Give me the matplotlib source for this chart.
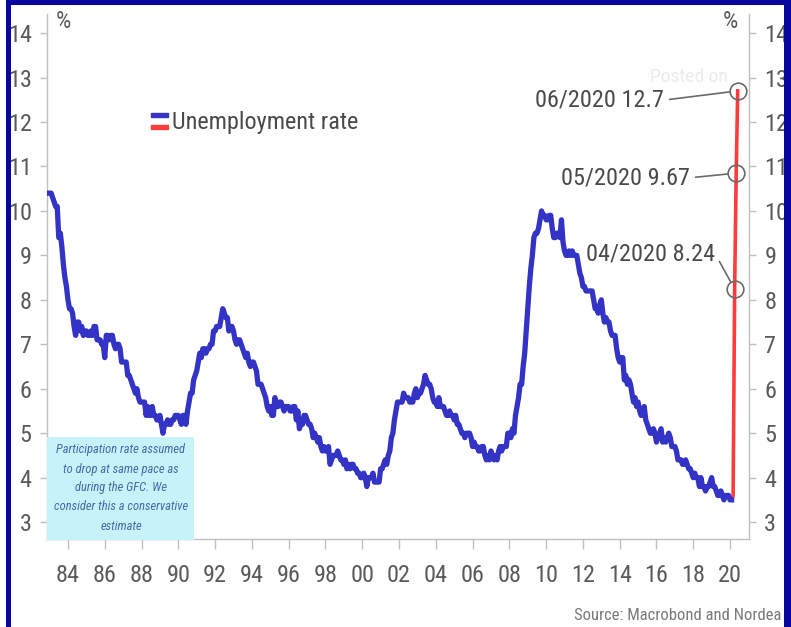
import numpy as np
import matplotlib
matplotlib.use("Agg")
import matplotlib.pyplot as plt
from matplotlib.patches import Rectangle

plt.rcParams['font.family'] = ['Roboto Condensed', 'DejaVu Sans']
plt.rcParams['font.weight'] = 'normal'

# US unemployment rate, monthly, Jan 1983 - Feb 2020 (%)
start_year = 1983
unemployment = [
    10.4, 10.4, 10.3, 10.2, 10.1, 10.1, 9.4, 9.5, 9.2, 8.8, 8.5, 8.3,   # 1983
    8.0, 7.8, 7.8, 7.7, 7.4, 7.2, 7.5, 7.5, 7.3, 7.4, 7.2, 7.3,         # 1984
    7.3, 7.2, 7.2, 7.3, 7.2, 7.4, 7.4, 7.1, 7.1, 7.1, 7.0, 7.0,         # 1985
    6.7, 7.2, 7.2, 7.1, 7.2, 7.2, 7.0, 6.9, 7.0, 7.0, 6.9, 6.6,         # 1986
    6.6, 6.6, 6.6, 6.3, 6.3, 6.2, 6.1, 6.0, 5.9, 6.0, 5.8, 5.7,         # 1987
    5.7, 5.7, 5.7, 5.4, 5.6, 5.4, 5.4, 5.6, 5.4, 5.4, 5.3, 5.3,         # 1988
    5.4, 5.2, 5.0, 5.2, 5.2, 5.3, 5.2, 5.2, 5.3, 5.3, 5.4, 5.4,         # 1989
    5.4, 5.3, 5.2, 5.4, 5.4, 5.2, 5.5, 5.7, 5.9, 5.9, 6.2, 6.3,         # 1990
    6.4, 6.6, 6.8, 6.7, 6.9, 6.9, 6.8, 6.9, 6.9, 7.0, 7.0, 7.3,         # 1991
    7.3, 7.4, 7.4, 7.4, 7.6, 7.8, 7.7, 7.6, 7.6, 7.3, 7.4, 7.4,         # 1992
    7.3, 7.1, 7.0, 7.1, 7.1, 7.0, 6.9, 6.8, 6.7, 6.8, 6.6, 6.5,         # 1993
    6.6, 6.6, 6.5, 6.4, 6.1, 6.1, 6.1, 6.0, 5.9, 5.8, 5.6, 5.5,         # 1994
    5.6, 5.4, 5.4, 5.8, 5.6, 5.6, 5.7, 5.7, 5.6, 5.5, 5.6, 5.6,         # 1995
    5.6, 5.5, 5.5, 5.6, 5.6, 5.3, 5.5, 5.1, 5.2, 5.2, 5.4, 5.4,         # 1996
    5.3, 5.2, 5.2, 5.1, 4.9, 5.0, 4.9, 4.8, 4.9, 4.7, 4.6, 4.7,         # 1997
    4.6, 4.6, 4.7, 4.3, 4.4, 4.5, 4.5, 4.5, 4.6, 4.5, 4.4, 4.4,         # 1998
    4.3, 4.4, 4.2, 4.3, 4.2, 4.3, 4.3, 4.2, 4.2, 4.1, 4.1, 4.0,         # 1999
    4.0, 4.1, 4.0, 3.8, 4.0, 4.0, 4.0, 4.1, 3.9, 3.9, 3.9, 3.9,         # 2000
    4.2, 4.2, 4.3, 4.4, 4.3, 4.5, 4.6, 4.9, 5.0, 5.3, 5.5, 5.7,         # 2001
    5.7, 5.7, 5.7, 5.9, 5.8, 5.8, 5.8, 5.7, 5.7, 5.7, 5.9, 6.0,         # 2002
    5.8, 5.9, 5.9, 6.0, 6.1, 6.3, 6.2, 6.1, 6.1, 6.0, 5.8, 5.7,         # 2003
    5.7, 5.6, 5.8, 5.6, 5.6, 5.6, 5.5, 5.4, 5.4, 5.5, 5.4, 5.4,         # 2004
    5.3, 5.4, 5.2, 5.2, 5.1, 5.0, 5.0, 4.9, 5.0, 5.0, 5.0, 4.9,         # 2005
    4.7, 4.8, 4.7, 4.7, 4.6, 4.6, 4.7, 4.7, 4.5, 4.4, 4.5, 4.4,         # 2006
    4.6, 4.5, 4.4, 4.5, 4.4, 4.6, 4.7, 4.6, 4.7, 4.7, 4.7, 5.0,         # 2007
    5.0, 4.9, 5.1, 5.0, 5.4, 5.6, 5.8, 6.1, 6.1, 6.5, 6.8, 7.3,         # 2008
    7.8, 8.3, 8.7, 9.0, 9.4, 9.5, 9.5, 9.6, 9.8, 10.0, 9.9, 9.9,        # 2009
    9.8, 9.8, 9.9, 9.9, 9.6, 9.4, 9.4, 9.5, 9.5, 9.4, 9.8, 9.3,         # 2010
    9.1, 9.0, 9.0, 9.1, 9.0, 9.1, 9.0, 9.0, 9.0, 8.8, 8.6, 8.5,         # 2011
    8.3, 8.3, 8.2, 8.2, 8.2, 8.2, 8.2, 8.0, 7.8, 7.8, 7.7, 7.9,         # 2012
    8.0, 7.7, 7.5, 7.6, 7.5, 7.5, 7.3, 7.2, 7.2, 7.2, 6.9, 6.7,         # 2013
    6.6, 6.7, 6.7, 6.2, 6.3, 6.1, 6.2, 6.1, 5.9, 5.7, 5.8, 5.6,         # 2014
    5.7, 5.5, 5.4, 5.4, 5.6, 5.3, 5.2, 5.1, 5.0, 5.0, 5.1, 5.0,         # 2015
    4.8, 4.9, 5.0, 5.1, 4.8, 4.9, 4.8, 4.9, 5.0, 4.9, 4.7, 4.7,         # 2016
    4.7, 4.6, 4.4, 4.4, 4.4, 4.3, 4.3, 4.4, 4.3, 4.2, 4.2, 4.1,         # 2017
    4.0, 4.1, 4.0, 4.0, 3.8, 4.0, 3.8, 3.8, 3.7, 3.8, 3.8, 3.9,         # 2018
    4.0, 3.8, 3.8, 3.7, 3.6, 3.6, 3.7, 3.6, 3.5, 3.6, 3.6, 3.6,         # 2019
    3.5, 3.5,                                                           # 2020
]

# Nordea estimate, Feb - Jun 2020
est_months = [2, 3, 4, 5, 6]
est_values = [3.5, 3.6, 8.24, 10.85, 12.7]
est_labels = {4: "04/2020 8.24", 5: "05/2020 9.67", 6: "06/2020 12.7"}

year_ticks = list(range(1984, 2021, 2))
y_ticks = list(range(3, 15))

dates = start_year + np.arange(len(unemployment)) / 12.0
est_dates = [2020 + (m - 1) / 12.0 for m in est_months]

fig = plt.figure(figsize=(7.91, 6.27), dpi=100)
ax = fig.add_axes([47 / 791, 88 / 627, 702 / 791, 525 / 627])

ax.plot(dates, unemployment, color='#3333c6', lw=3.8, solid_joinstyle='round', zorder=3)
ax.plot(est_dates, est_values, color='#ff3b3b', lw=2.6, zorder=2)

ax.set_xlim(1982.86, 2021.03)
ax.set_ylim(2.62, 14.43)
ax.set_xticks(year_ticks)
ax.set_xticklabels(["%02d" % (y % 100) for y in year_ticks])
ax.set_yticks(y_ticks)

for s in ['left', 'right', 'bottom']:
    ax.spines[s].set_color('#c0c0c0')
    ax.spines[s].set_linewidth(1.0)
ax.spines['top'].set_visible(False)
ax.tick_params(axis='both', colors='#c0c0c0', labelcolor='#5a5a5a', labelsize=17.5,
               length=5, width=1, direction='out')
ax.tick_params(axis='x', length=7, pad=11)
ax.tick_params(axis='y', left=True, right=True, labelleft=True, labelright=True, pad=6)

ax.text(0.012, 0.985, "%", transform=ax.transAxes, fontsize=17.5, color='#5a5a5a',
        ha='left', va='center')
ax.text(0.985, 0.985, "%", transform=ax.transAxes, fontsize=17.5, color='#5a5a5a',
        ha='right', va='center')

# faint watermark
ax.text(0.915, 0.88, "Posted on", transform=ax.transAxes, fontsize=14, color='#ebebeb',
        ha='center', va='center', zorder=1)

# circled estimates with leader lines
label_pos = {6: (0.879, 0.836), 5: (0.916, 0.688), 4: (0.952, 0.543)}
for m, v, d in zip(est_months, est_values, est_dates):
    if m not in est_labels:
        continue
    ax.plot([d], [v], marker='o', ms=12, mfc='none', mec='#6a6a6a', mew=1.2, zorder=4)
    ax.annotate(est_labels[m], xy=(d, v), xytext=label_pos[m], textcoords='axes fraction',
                fontsize=17.5, color='#4a4a4a', ha='right', va='center',
                arrowprops=dict(arrowstyle='-', color='#6a6a6a', lw=1.2,
                                shrinkA=2, shrinkB=6, relpos=(1.0, 0.5)))

# legend
ax.add_patch(Rectangle((151 / 791, 1 - 117 / 627), 17 / 791, 4 / 627,
                       transform=fig.transFigure, color='#3333c6', clip_on=False))
ax.add_patch(Rectangle((151 / 791, 1 - 129 / 627), 17 / 791, 4 / 627,
                       transform=fig.transFigure, color='#ff3b3b', clip_on=False))
fig.text(172 / 791, 1 - 122 / 627, "Unemployment rate", fontsize=17.5, color='#4a4a4a',
         ha='left', va='center')

# note box
fig.patches.append(Rectangle((47 / 791, 1 - 540 / 627), 147 / 791, 103 / 627,
                             transform=fig.transFigure, facecolor='#c6f2f9',
                             edgecolor='none', zorder=5))
fig.text(121 / 791, 1 - 488 / 627,
         "Participation rate assumed\nto drop at same pace as\nduring the GFC. We\n"
         "consider this a conservative\nestimate",
         fontsize=9, style='italic', color='#4a68a8', ha='center', va='center',
         linespacing=1.6, zorder=6)

fig.text(781 / 791, 1 - 615 / 627, "Source: Macrobond and Nordea", fontsize=12,
         color='#7a7a7a', ha='right', va='center')

# navy frame
navy = '#0707a0'
for (x0, y0, w, h) in [(6, 0, 5, 627), (6, 0, 785, 5), (784, 0, 7, 627)]:
    fig.patches.append(Rectangle((x0 / 791, 1 - (y0 + h) / 627), w / 791, h / 627,
                                 transform=fig.transFigure, facecolor=navy,
                                 edgecolor='none', zorder=10))

fig.savefig('out.png', dpi=100)
